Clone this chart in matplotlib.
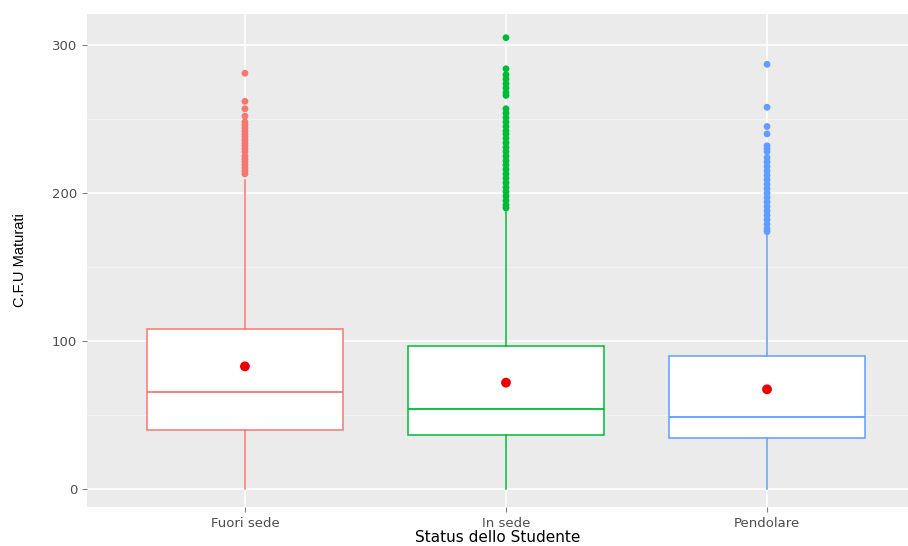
import matplotlib
matplotlib.use("Agg")
import matplotlib.pyplot as plt
from matplotlib.ticker import MultipleLocator

# data
categories = ["Fuori sede", "In sede", "Pendolare"]
colors = ["#F8766D", "#00BA38", "#619CFF"]
q1 = [40, 36.5, 34.5]
med = [66, 54, 48.5]
q3 = [108, 97, 90]
mean = [83, 72, 67.5]
wlo = [0, 0, 0]
whi = [209, 187, 173]
out_fuori = [281, 262, 257, 252, 248, 246, 244, 242, 240, 238, 236, 234, 232, 230,
             228, 225, 223, 221, 219, 217, 215, 213]
out_insede = [305, 284, 280, 277, 274, 271, 268, 266, 257, 254, 251, 248, 245, 242,
              240, 237, 234, 231, 228, 225, 222, 219, 216, 213, 210, 207, 204, 201,
              198, 195, 192, 190]
out_pend = [287, 258, 245, 240, 232, 230, 228, 224, 221, 218, 215, 212, 209, 206,
            203, 200, 197, 194, 191, 188, 185, 182, 179, 176, 174]
outliers = [out_fuori, out_insede, out_pend]

fig = plt.figure(figsize=(9.08, 5.46), dpi=100)
ax = fig.add_axes([87 / 908, 1 - 507 / 546, 1 - 87 / 908, 493 / 546])
ax.set_facecolor("#EBEBEB")
for s in ax.spines.values():
    s.set_visible(False)

ax.yaxis.set_major_locator(MultipleLocator(100))
ax.yaxis.set_minor_locator(MultipleLocator(50))
ax.grid(which="major", color="white", lw=1.1)
ax.grid(which="minor", axis="y", color="#F5F5F5", lw=0.6)
ax.set_axisbelow(True)

stats = []
for i, c in enumerate(categories):
    stats.append(dict(label=c, q1=q1[i], med=med[i], q3=q3[i], whislo=wlo[i],
                      whishi=whi[i], fliers=[]))

pos = [1, 2, 3]
for i in range(3):
    ax.bxp([stats[i]], positions=[pos[i]], widths=0.75, patch_artist=True,
           showfliers=False, showcaps=False,
           boxprops=dict(facecolor="white", edgecolor=colors[i], lw=1.1),
           medianprops=dict(color=colors[i], lw=1.3),
           whiskerprops=dict(color=colors[i], lw=1.1))
    ax.scatter([pos[i]] * len(outliers[i]), outliers[i], s=24, color=colors[i],
               edgecolors="none", zorder=3)
    ax.scatter([pos[i]], [mean[i]], s=50, color="#EE0000", edgecolors="none", zorder=4)

ax.set_xlim(0.395, 3.54)
ax.set_ylim(-12, 321)
ax.set_xticks(pos)
ax.set_xticklabels(categories)
ax.set_yticks([0, 100, 200, 300])
ax.tick_params(axis="both", which="major", colors="#7F7F7F", labelcolor="#4D4D4D",
               labelsize=9.5, length=3.5, width=0.8)
ax.tick_params(axis="y", which="minor", length=0)
ax.set_xlabel("Status dello Studente", fontsize=11, color="black", labelpad=0)
ax.set_ylabel("C.F.U Maturati", fontsize=10.5, color="black", labelpad=18,
              family=["Liberation Sans Narrow", "Liberation Sans", "DejaVu Sans"])

fig.savefig("out.png", dpi=100)
